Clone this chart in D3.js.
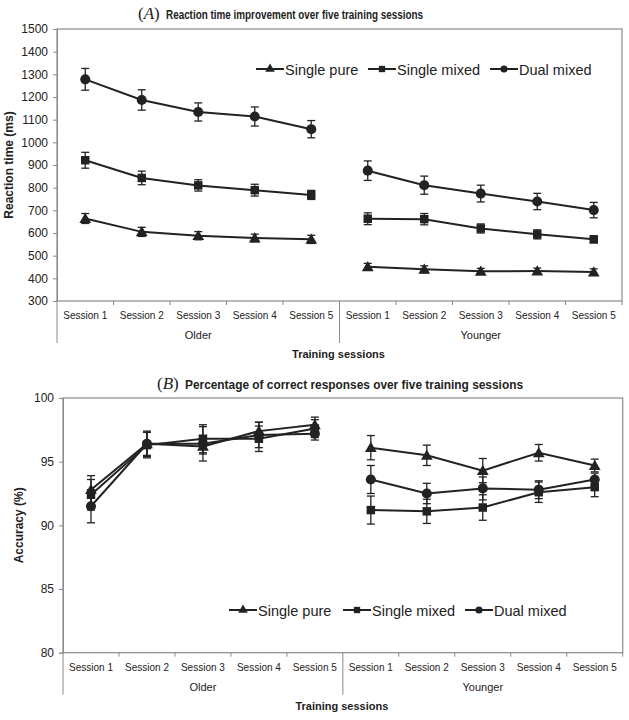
<!DOCTYPE html>
<html><head><meta charset="utf-8">
<script src="https://cdn.jsdelivr.net/npm/d3@7"></script>
<style>body{margin:0;background:#fff}svg{display:block}text{font-family:"Liberation Sans",Arial,sans-serif;fill:#222}</style>
</head><body>
<svg id="c" width="629" height="720"></svg>
<script>
const sessions = ["Session 1","Session 2","Session 3","Session 4","Session 5"];
const groups = ["Older","Younger"];
const seriesNames = ["Single pure","Single mixed","Dual mixed"];
const seriesSymbols = ["triangle","square","circle"];

const rtTicks = [300,400,500,600,700,800,900,1000,1100,1200,1300,1400,1500];
const rtSinglePure = [664,605,588,578,572, 451,440,431,432,428];
const rtSinglePureErr = [22,20,18,17,18, 15,15,13,13,14];
const rtSingleMixed = [921,843,810,789,768, 663,661,620,594,572];
const rtSingleMixedErr = [35,30,25,26,20, 26,25,20,20,15];
const rtDualMixed = [1278,1187,1134,1114,1058, 875,811,774,739,701];
const rtDualMixedErr = [48,45,40,42,38, 43,40,37,36,34];

const accTicks = [80,85,90,95,100];
const accSinglePure = [92.8,96.4,96.2,97.4,97.9, 96.1,95.5,94.3,95.7,94.7];
const accSinglePureErr = [1.1,0.9,0.6,0.7,0.6, 0.95,0.8,0.95,0.65,0.5];
const accSingleMixed = [92.4,96.3,96.8,96.8,97.6, 91.2,91.1,91.4,92.6,93.0];
const accSingleMixedErr = [1.2,1.0,1.1,1.0,0.7, 1.1,0.95,1.0,0.8,0.75];
const accDualMixed = [91.5,96.4,96.4,97.1,97.2, 93.6,92.5,92.9,92.8,93.6];
const accDualMixedErr = [1.3,1.0,1.35,1.0,0.5, 1.1,0.8,0.9,0.7,0.5];

const svg = d3.select("#c");
const keys = [];
groups.forEach(g => sessions.forEach(s => keys.push(g + "|" + s)));

function symbolPath(type, size) {
  const t = type === "triangle" ? d3.symbolTriangle : type === "square" ? d3.symbolSquare : d3.symbolCircle;
  return d3.symbol().type(t).size(size)();
}

function panel(cfg) {
  const {left, right, top, bottom, domain, ticks, series, yLabel, title, letter, legendY, legendX, titleX, titleY, titleW} = cfg;
  const x = d3.scaleBand().domain(keys).range([left, right]);
  const y = d3.scaleLinear().domain(domain).range([bottom, top]);
  const g = svg.append("g");
  const frame = "#8a8a8a";
  g.append("rect").attr("x", left).attr("y", top).attr("width", right - left).attr("height", bottom - top)
    .attr("fill", "none").attr("stroke", frame).attr("stroke-width", 1.2);
  const ya = d3.axisLeft(y).tickValues(ticks).tickSize(4).tickPadding(5).tickFormat(d3.format("d"));
  const yg = g.append("g").attr("transform", `translate(${left},0)`).call(ya);
  yg.select(".domain").attr("stroke", frame);
  yg.selectAll(".tick line").attr("stroke", frame);
  yg.selectAll("text").style("font-size", "12px").attr("fill", "#222");
  const bounds = keys.map(k => x(k)).concat([right]);
  bounds.forEach((b, i) => {
    const long = (i === 0 || i === 5);
    g.append("line").attr("x1", b).attr("x2", b).attr("y1", bottom).attr("y2", long ? bottom + 42 : bottom + 4)
      .attr("stroke", frame).attr("stroke-width", 1);
  });
  keys.forEach(k => {
    g.append("text").attr("x", x(k) + x.bandwidth() / 2).attr("y", bottom + 18).attr("text-anchor", "middle")
      .style("font-size", "11px").attr("textLength", 44).attr("lengthAdjust", "spacingAndGlyphs").text(k.split("|")[1]);
  });
  groups.forEach(gr => {
    const x0 = x(gr + "|" + sessions[0]), x1 = x(gr + "|" + sessions[sessions.length - 1]) + x.bandwidth();
    g.append("text").attr("x", (x0 + x1) / 2).attr("y", bottom + 38).attr("text-anchor", "middle")
      .style("font-size", "11px").text(gr);
  });
  g.append("text").attr("x", (left + right) / 2 - 1).attr("y", bottom + 57).attr("text-anchor", "middle")
    .style("font-size", "11px").style("font-weight", "bold").text("Training sessions");
  g.append("text").attr("transform", `translate(${cfg.yLabelX},${(top + bottom) / 2}) rotate(-90)`)
    .attr("text-anchor", "middle").style("font-size", "12px").style("font-weight", "bold").text(yLabel);
  // title
  const tt = g.append("text").attr("x", titleX).attr("y", titleY);
  tt.append("tspan").style("font-family", "'Liberation Serif',serif").style("font-size", "17px").text("(");
  tt.append("tspan").style("font-family", "'Liberation Serif',serif").style("font-size", "17px").style("font-style", "italic").text(letter);
  tt.append("tspan").style("font-family", "'Liberation Serif',serif").style("font-size", "17px").text(")");
  g.append("text").attr("x", titleX + 28).attr("y", titleY).style("font-size", "12px").style("font-weight", "bold")
    .attr("textLength", titleW).attr("lengthAdjust", "spacingAndGlyphs").text(title);
  const lineGen = d3.line().x(d => x(d.k) + x.bandwidth() / 2).y(d => y(d.v));
  series.forEach((s, si) => {
    const pts = keys.map((k, i) => ({k, v: s.values[i], e: s.errs[i]}));
    groups.forEach((gr, gi) => {
      const seg = pts.slice(gi * sessions.length, (gi + 1) * sessions.length);
      g.append("path").attr("d", lineGen(seg)).attr("fill", "none").attr("stroke", "#222").attr("stroke-width", 2);
    });
    pts.forEach(p => {
      const cx = x(p.k) + x.bandwidth() / 2;
      g.append("line").attr("x1", cx).attr("x2", cx).attr("y1", y(p.v - p.e)).attr("y2", y(p.v + p.e))
        .attr("stroke", "#222").attr("stroke-width", 1.3);
      [p.v - p.e, p.v + p.e].forEach(v => g.append("line").attr("x1", cx - 4).attr("x2", cx + 4)
        .attr("y1", y(v)).attr("y2", y(v)).attr("stroke", "#222").attr("stroke-width", 1.3));
    });
    pts.forEach(p => {
      const cx = x(p.k) + x.bandwidth() / 2;
      g.append("path").attr("d", symbolPath(seriesSymbols[si], seriesSymbols[si] === "circle" ? 80 : seriesSymbols[si] === "square" ? 72 : 60))
        .attr("transform", `translate(${cx},${y(p.v) + (seriesSymbols[si] === "triangle" ? 1 : 0)})`).attr("fill", "#222");
    });
  });
  legendX.forEach((lx, i) => {
    g.append("line").attr("x1", lx).attr("x2", lx + 28).attr("y1", legendY).attr("y2", legendY).attr("stroke", "#222").attr("stroke-width", 2);
    g.append("path").attr("d", symbolPath(seriesSymbols[i], 40)).attr("transform", `translate(${lx + 14},${legendY})`).attr("fill", "#222");
    g.append("text").attr("x", lx + 29).attr("y", legendY + 5.5).style("font-size", "14.5px").text(seriesNames[i]);
  });
}

panel({
  left: 57, right: 622, top: 29, bottom: 301, domain: [300, 1500], ticks: rtTicks,
  series: [
    {values: rtSinglePure, errs: rtSinglePureErr},
    {values: rtSingleMixed, errs: rtSingleMixedErr},
    {values: rtDualMixed, errs: rtDualMixedErr}
  ],
  yLabel: "Reaction time (ms)", yLabelX: 13, letter: "A",
  title: "Reaction time improvement over five training sessions", titleX: 138, titleY: 19, titleW: 257,
  legendY: 69, legendX: [256, 368, 490]
});
panel({
  left: 63, right: 622.7, top: 398, bottom: 652.7, domain: [80, 100], ticks: accTicks,
  series: [
    {values: accSinglePure, errs: accSinglePureErr},
    {values: accSingleMixed, errs: accSingleMixedErr},
    {values: accDualMixed, errs: accDualMixedErr}
  ],
  yLabel: "Accuracy (%)", yLabelX: 23, letter: "B",
  title: "Percentage of correct responses over five training sessions", titleX: 157, titleY: 389, titleW: 338,
  legendY: 610, legendX: [229, 343, 465]
});
</script>
</body></html>
